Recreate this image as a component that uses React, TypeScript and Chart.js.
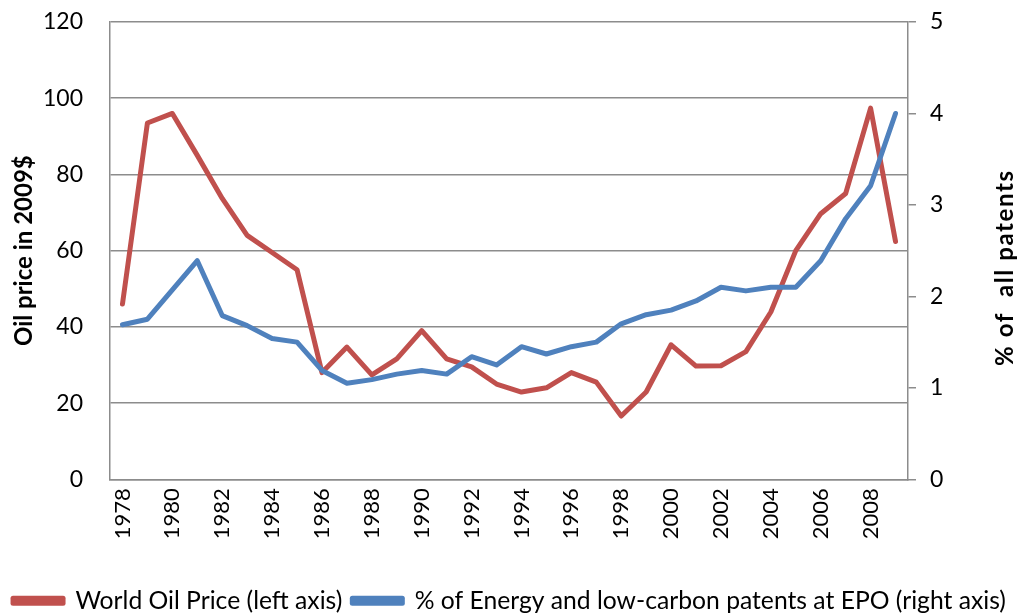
import { useEffect, useRef } from "react";
import { Chart, registerables } from "chart.js";

Chart.register(...registerables);

const years = [
  "1978", "1979", "1980", "1981", "1982", "1983", "1984", "1985", "1986", "1987",
  "1988", "1989", "1990", "1991", "1992", "1993", "1994", "1995", "1996", "1997",
  "1998", "1999", "2000", "2001", "2002", "2003", "2004", "2005", "2006", "2007",
  "2008", "2009",
];

const oilPrice = [
  46, 93.5, 96, 85, 73.7, 64, 59.5, 55, 28, 34.7,
  27.4, 31.6, 39, 31.6, 29.5, 25, 22.9, 24, 28, 25.5,
  16.6, 22.9, 35.3, 29.7, 29.8, 33.5, 43.9, 60, 69.7, 75,
  97.4, 62.4,
];

const patentShare = [
  1.69, 1.75, 2.07, 2.39, 1.79, 1.68, 1.54, 1.5, 1.19, 1.05,
  1.09, 1.15, 1.19, 1.15, 1.34, 1.25, 1.45, 1.37, 1.45, 1.5,
  1.7, 1.8, 1.85, 1.95, 2.1, 2.06, 2.1, 2.1, 2.39, 2.85,
  3.21, 4.0,
];

const leftAxis = { min: 0, max: 120, step: 20 };
const rightAxis = { min: 0, max: 5, step: 1 };

const leftTitle = "Oil price in 2009$";
const rightTitle = "% of  all patents";
const oilLabel = "World Oil Price (left axis)";
const patentLabel = "% of Energy and low-carbon patents at EPO (right axis)";

const RED = "#C0504D";
const BLUE = "#4F81BD";
const GRID = "#8c8c8c";
const FONT = "Lato";

const titlePlugin = {
  id: "axisTitlesUp",
  afterDraw(chart: any) {
    const { ctx, chartArea } = chart;
    const midY = (chartArea.top + chartArea.bottom) / 2;
    ctx.save();
    ctx.font = `bold 24px ${FONT}`;
    ctx.fillStyle = "#000";
    ctx.textAlign = "center";
    ctx.textBaseline = "middle";
    ctx.save();
    ctx.translate(chartArea.left - 86, midY);
    ctx.rotate(-Math.PI / 2);
    ctx.fillText(leftTitle, 0, 0);
    ctx.restore();
    ctx.save();
    ctx.letterSpacing = "1.6px";
    ctx.translate(chartArea.right + 97, midY + 17);
    ctx.rotate(-Math.PI / 2);
    ctx.fillText(rightTitle, 0, 0);
    ctx.restore();
    ctx.restore();
  },
};

export default function App() {
  const ref = useRef<HTMLCanvasElement | null>(null);

  useEffect(() => {
    if (!ref.current) return;
    const chart = new Chart(ref.current, {
      type: "line",
      data: {
        labels: years,
        datasets: [
          {
            label: oilLabel,
            data: oilPrice,
            borderColor: RED,
            backgroundColor: RED,
            borderWidth: 5,
            pointRadius: 0,
            tension: 0,
            borderCapStyle: "round",
            borderJoinStyle: "round",
            yAxisID: "y",
            order: 1,
          },
          {
            label: patentLabel,
            data: patentShare,
            borderColor: BLUE,
            backgroundColor: BLUE,
            borderWidth: 5,
            pointRadius: 0,
            tension: 0,
            borderCapStyle: "round",
            borderJoinStyle: "round",
            yAxisID: "y1",
            order: 0,
          },
        ],
      },
      options: {
        responsive: false,
        animation: false,
        layout: { padding: { top: 22, left: 0, right: 0, bottom: -7 } },
        plugins: {
          tooltip: { enabled: false },
          legend: {
            position: "bottom",
            labels: {
              font: { family: FONT, size: 24.7 },
              color: "#000",
              boxWidth: 50,
              boxHeight: 5,
              padding: 10,
              sort: (a: any, b: any) => a.datasetIndex - b.datasetIndex,
            },
          },
        },
        scales: {
          x: {
            offset: true,
            grid: { display: false, drawTicks: false },
            border: { display: true, color: GRID, width: 1.5 },
            ticks: {
              autoSkip: false,
              minRotation: 90,
              maxRotation: 90,
              padding: 9,
              color: "#000",
              font: { family: FONT, size: 22 },
              callback: (_v: any, i: number) => (i % 2 === 0 ? years[i] : ""),
            },
            afterFit: (s: any) => {
              s.height = 99;
              s.paddingLeft = 0;
              s.paddingRight = 0;
            },
          },
          y: {
            position: "left",
            min: leftAxis.min,
            max: leftAxis.max,
            grid: { color: GRID, lineWidth: 1.5, drawTicks: false },
            border: { display: true, color: GRID, width: 1.5 },
            ticks: {
              stepSize: leftAxis.step,
              padding: 27,
              color: "#000",
              font: { family: FONT, size: 23 },
            },
            afterFit: (s: any) => {
              s.width = 110;
              s.paddingTop = 0;
              s.paddingBottom = 0;
            },
          },
          y1: {
            position: "right",
            min: rightAxis.min,
            max: rightAxis.max,
            grid: { drawOnChartArea: false, color: GRID, lineWidth: 1.5, tickLength: 8 },
            border: { display: true, color: GRID, width: 1.5 },
            ticks: {
              stepSize: rightAxis.step,
              padding: 14,
              color: "#000",
              font: { family: FONT, size: 23 },
            },
            afterFit: (s: any) => {
              s.width = 111;
              s.paddingTop = 0;
              s.paddingBottom = 0;
            },
          },
        },
      },
      plugins: [titlePlugin],
    });
    return () => chart.destroy();
  }, []);

  return (
    <canvas
      ref={ref}
      width={1019}
      height={616}
      style={{ position: "fixed", left: 0, top: 0, background: "#fff" }}
    />
  );
}
